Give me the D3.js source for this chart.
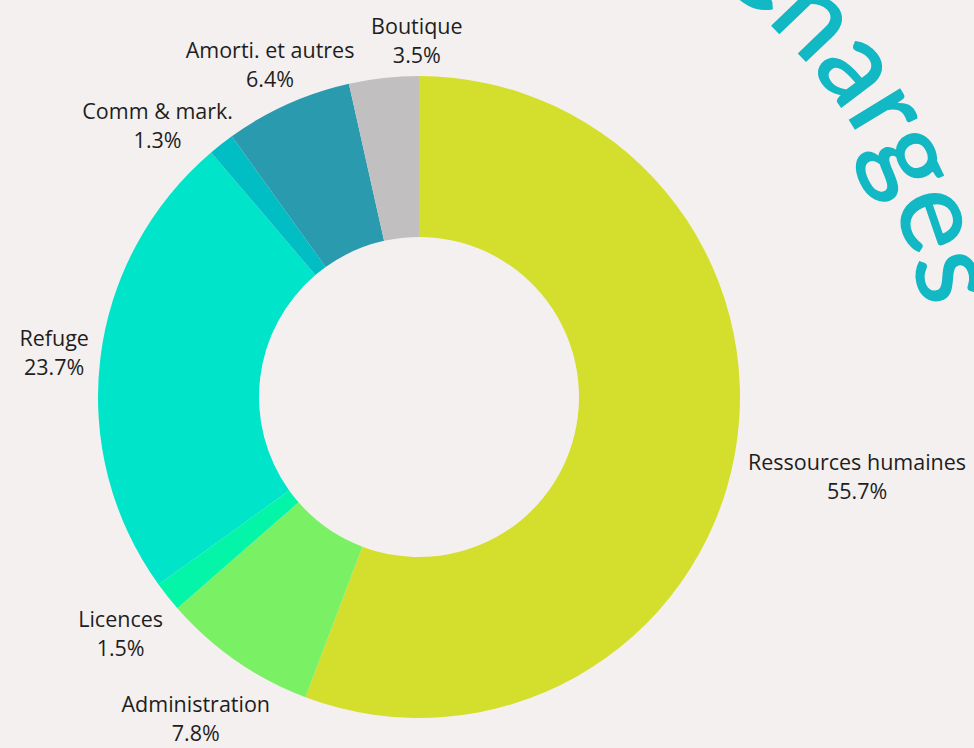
<!DOCTYPE html>
<html>
<head>
<meta charset="utf-8">
<script src="https://cdn.jsdelivr.net/npm/d3@7/dist/d3.min.js"></script>
<style>
  html, body { margin: 0; padding: 0; background: #f4f0ef; overflow: hidden; }
  svg { display: block; }
</style>
</head>
<body>
<div id="chart"></div>
<script>
// Data
const categories = ['Ressources humaines', 'Administration', 'Licences', 'Refuge', 'Comm & mark.', 'Amorti. et autres', 'Boutique']
const shares = [55.7, 7.8, 1.5, 23.7, 1.3, 6.4, 3.5]
const colors = ['#d4df2d', '#7af065', '#05f5a8', '#00e4c9', '#00bec4', '#2a9aaf', '#c1bfbf']
const title = 'Charges'

function draw() {
  // Dimensions
  const dimensions = {
    width: 974,
    height: 748,
    cx: 419,
    cy: 397,
    outer: 321,
    inner: 160,
    labelGap: 13,
    fontSize: 21.5,
    lineStep: 29
  }

  const svg = d3.select('#chart')
    .append('svg')
    .attr('width', dimensions.width)
    .attr('height', dimensions.height)

  svg.append('rect')
    .attr('width', dimensions.width)
    .attr('height', dimensions.height)
    .attr('fill', '#f4f0ef')

  const ctr = svg.append('g')
    .attr('transform', `translate(${dimensions.cx}, ${dimensions.cy})`)

  const dataset = categories.map((name, i) => ({ name, value: shares[i], color: colors[i] }))

  const pie = d3.pie()
    .sort(null)
    .value(d => d.value)

  const arc = d3.arc()
    .innerRadius(dimensions.inner)
    .outerRadius(dimensions.outer)

  const arcs = pie(dataset)

  // Slices
  ctr.append('g')
    .selectAll('path')
    .data(arcs)
    .join('path')
    .attr('d', arc)
    .attr('fill', d => d.data.color)

  // Labels: two lines, centred on (0,0) before being moved
  const fs = dimensions.fontSize
  const step = dimensions.lineStep
  const labels = ctr.append('g')
    .selectAll('text')
    .data(arcs)
    .join('text')
    .attr('text-anchor', 'middle')
    .attr('fill', '#1e1e1e')
    .style('font-family', '"Open Sans", Lato, sans-serif')
    .style('font-size', fs + 'px')

  labels.append('tspan')
    .attr('x', 0)
    .attr('y', -step / 2 + 0.36 * fs)
    .text(d => d.data.name)

  labels.append('tspan')
    .attr('x', 0)
    .attr('y', step / 2 + 0.36 * fs)
    .text(d => d.data.value.toFixed(1) + '%')

  // one glyph box per line
  const halfH = 8
  const lineBoxes = []
  labels.each(function() {
    const rows = []
    d3.select(this).selectAll('tspan').each(function(d, k) {
      const w = this.getComputedTextLength()
      const yc = (k === 0 ? -step / 2 : step / 2)
      rows.push({ x0: -w / 2, x1: w / 2, y0: yc - halfH, y1: yc + halfH })
    })
    lineBoxes.push(rows)
  })

  const shift = (rows, px, py) => rows.map(r => ({ x0: r.x0 + px, x1: r.x1 + px, y0: r.y0 + py, y1: r.y1 + py }))
  const dist = r => Math.hypot(Math.max(r.x0, 0, -r.x1), Math.max(r.y0, 0, -r.y1))

  // label centre on the mid ray, its closest glyph just outside the ring
  const target = dimensions.outer + dimensions.labelGap
  const place = (angle, rows) => {
    const ux = Math.sin(angle), uy = -Math.cos(angle)
    let lo = 0, hi = 900
    for (let k = 0; k < 40; k++) {
      const mid = (lo + hi) / 2
      const d = d3.min(shift(rows, mid * ux, mid * uy), dist)
      if (d < target) lo = mid
      else hi = mid
    }
    return { x: hi * ux, y: hi * uy, rows: shift(rows, hi * ux, hi * uy) }
  }

  const pad = 16
  const boxHit = (a, b) =>
    a.x0 < b.x1 + pad && b.x0 < a.x1 + pad && a.y0 < b.y1 + pad && b.y0 < a.y1 + pad
  const collide = (p, q) => p.rows.some(a => q.rows.some(b => boxHit(a, b)))

  // the smaller slice's label gives way along the ring
  const angles = arcs.map(d => (d.startAngle + d.endAngle) / 2)
  for (let iter = 0; iter < 800; iter++) {
    const pos = angles.map((a, i) => place(a, lineBoxes[i]))
    let moved = false
    for (let i = 0; i < pos.length - 1; i++) {
      if (collide(pos[i], pos[i + 1])) {
        if (shares[i] < shares[i + 1]) angles[i] -= 0.002
        else angles[i + 1] += 0.002
        moved = true
      }
    }
    if (!moved) break
  }

  const positions = angles.map((a, i) => place(a, lineBoxes[i]))

  labels.attr('transform', (d, i) => `translate(${positions[i].x}, ${positions[i].y})`)

  // Curved title, centred on an arc around the donut
  const titleRadius = 512
  const titleMid = 57 * Math.PI / 180
  const a1 = 130 * Math.PI / 180
  const pt = a => [titleRadius * Math.sin(a), -titleRadius * Math.cos(a)]
  const [ex, ey] = pt(a1)

  svg.append('defs')
    .append('path')
    .attr('id', 'title-path')
    .attr('d', `M0,${-titleRadius} A${titleRadius},${titleRadius} 0 0 1 ${ex},${ey}`)

  ctr.append('text')
    .attr('fill', '#12b8c3')
    .attr('stroke', '#12b8c3')
    .attr('stroke-width', 1.5)
    .attr('text-anchor', 'middle')
    .style('font-family', 'Lato, "Open Sans", sans-serif')
    .style('font-size', '116px')
    .append('textPath')
    .attr('href', '#title-path')
    .attr('startOffset', titleRadius * titleMid)
    .text(title)
}

draw()
</script>
</body>
</html>
